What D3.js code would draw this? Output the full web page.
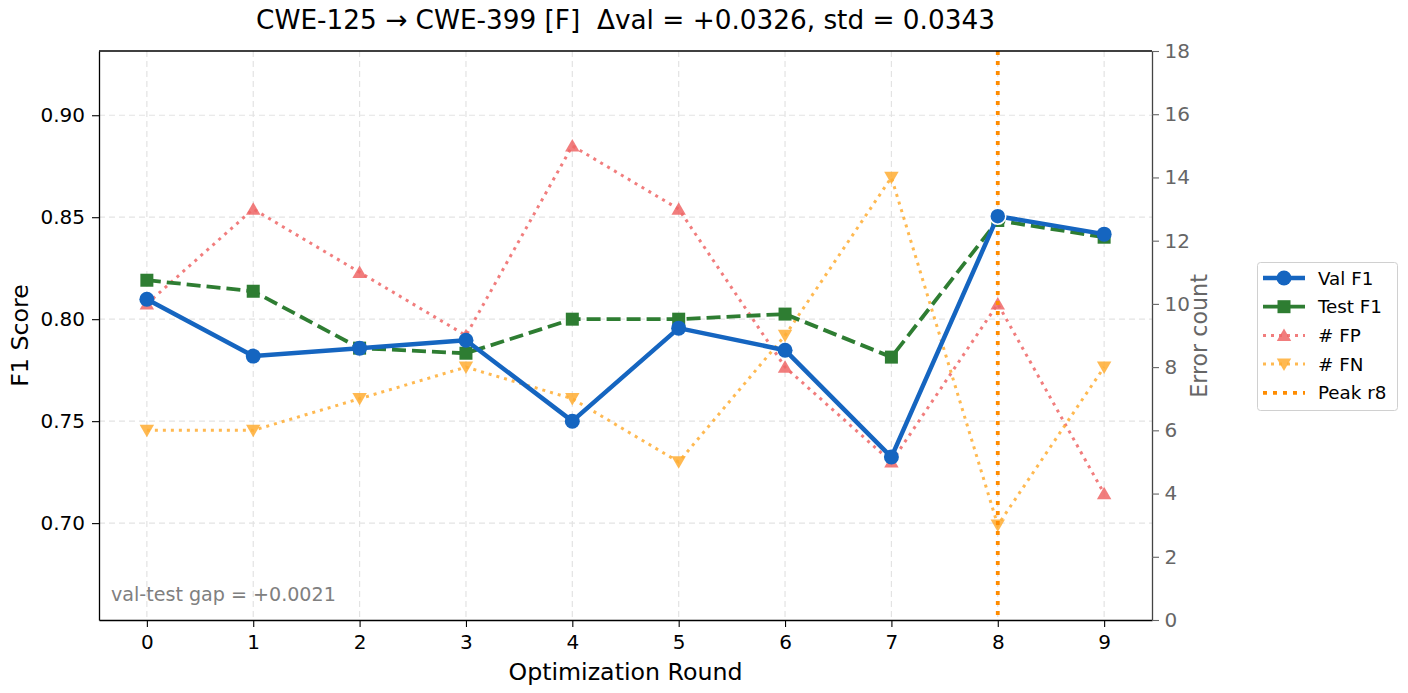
<!DOCTYPE html>
<html>
<head>
<meta charset="utf-8">
<script src="https://d3js.org/d3.v7.min.js"></script>
<style>
	body { margin: 0; background: white; font-family: "DejaVu Sans", sans-serif; }
	svg text { font-family: "DejaVu Sans", sans-serif; }
</style>
</head>
<body>
<script>
	var rounds = [0,1,2,3,4,5,6,7,8,9];
	var valF1 = [0.8098,0.7819,0.7858,0.7897,0.7500,0.7956,0.7848,0.7324,0.8505,0.8417];
	var testF1 = [0.8191,0.8137,0.7858,0.7833,0.8000,0.8000,0.8025,0.7814,0.8484,0.8402];
	var fpCount = [10,13,11,9,15,13,8,5,10,4];
	var fnCount = [6,6,7,8,7,5,9,14,3,8];
	var leftTicks = [0.70,0.75,0.80,0.85,0.90];
	var rightTicks = [0,2,4,6,8,10,12,14,16,18];
	var peakRound = 8;
	var title = "CWE-125 \u2192 CWE-399 [F]  \u0394val = +0.0326, std = 0.0343";
	var gapText = "val-test gap = +0.0021";

	var W = 1408, H = 693;
	var m = {left:99, top:51, right:1152, bottom:620};

	var svg = d3.select("body").append("svg")
		.attr("width", W).attr("height", H)
		.style("display","block");

	var x = d3.scaleLinear().domain([-0.45, 9.45]).range([m.left, m.right]);
	var y = d3.scaleLinear().domain([0.6525, 0.9315]).range([m.bottom, m.top]);
	var y2 = d3.scaleLinear().domain([0, 18]).range([m.bottom, m.top]);

	// grid
	var grid = svg.append("g");
	grid.selectAll(".gx").data(rounds).enter().append("line")
		.attr("x1", function(d){ return x(d); }).attr("x2", function(d){ return x(d); })
		.attr("y1", m.top).attr("y2", m.bottom)
		.attr("stroke","#e3e3e3").attr("stroke-dasharray","6,4").attr("stroke-width",1.2);
	grid.selectAll(".gy").data(leftTicks).enter().append("line")
		.attr("y1", function(d){ return y(d); }).attr("y2", function(d){ return y(d); })
		.attr("x1", m.left).attr("x2", m.right)
		.attr("stroke","#e3e3e3").attr("stroke-dasharray","6,4").attr("stroke-width",1.2);

	// error lines (right axis)
	var line2 = d3.line().x(function(d,i){ return x(rounds[i]); }).y(function(d){ return y2(d); });
	var line1 = d3.line().x(function(d,i){ return x(rounds[i]); }).y(function(d){ return y(d); });

	svg.append("path").datum(fpCount).attr("d", line2)
		.attr("fill","none").attr("stroke","#ee6666").attr("stroke-opacity",0.85)
		.attr("stroke-width",3).attr("stroke-dasharray","3,5");
	svg.append("path").datum(fnCount).attr("d", line2)
		.attr("fill","none").attr("stroke","#ffad33").attr("stroke-opacity",0.85)
		.attr("stroke-width",3).attr("stroke-dasharray","3,5");

	var triUp = d3.symbol().type(d3.symbolTriangle).size(90);
	svg.selectAll(".fp").data(fpCount).enter().append("path")
		.attr("d", triUp)
		.attr("transform", function(d,i){ return "translate(" + x(rounds[i]) + "," + (y2(d)+1.5) + ")"; })
		.attr("fill","#ee6666").attr("fill-opacity",0.85);
	svg.selectAll(".fn").data(fnCount).enter().append("path")
		.attr("d", triUp)
		.attr("transform", function(d,i){ return "translate(" + x(rounds[i]) + "," + (y2(d)-1.5) + ") rotate(180)"; })
		.attr("fill","#ffad33").attr("fill-opacity",0.85);

	// peak line
	svg.append("line")
		.attr("x1", x(peakRound)).attr("x2", x(peakRound))
		.attr("y1", m.top).attr("y2", m.bottom)
		.attr("stroke","#ff8c00").attr("stroke-width",3.8).attr("stroke-dasharray","4,6");

	// F1 lines
	svg.append("path").datum(testF1).attr("d", line1)
		.attr("fill","none").attr("stroke","#2e7d32").attr("stroke-width",3.8)
		.attr("stroke-dasharray","14,6");
	svg.selectAll(".tm").data(testF1).enter().append("rect")
		.attr("x", function(d,i){ return x(rounds[i]) - 6.5; })
		.attr("y", function(d){ return y(d) - 6.5; })
		.attr("width",13).attr("height",13).attr("fill","#2e7d32");

	svg.append("path").datum(valF1).attr("d", line1)
		.attr("fill","none").attr("stroke","#1565c0").attr("stroke-width",4.5)
		.attr("stroke-linejoin","round");
	svg.selectAll(".vm").data(valF1).enter().append("circle")
		.attr("cx", function(d,i){ return x(rounds[i]); })
		.attr("cy", function(d){ return y(d); })
		.attr("r", function(d,i){ return rounds[i] === peakRound ? 8 : 7.5; })
		.attr("fill","#1565c0")
		.attr("stroke", function(d,i){ return rounds[i] === peakRound ? "white" : "none"; })
		.attr("stroke-width",1.5);

	// frame
	svg.append("line").attr("x1",m.left).attr("x2",m.right).attr("y1",m.top).attr("y2",m.top)
		.attr("stroke","#000").attr("stroke-width",1.3);

	// axes
	var xAxis = svg.append("g").attr("transform","translate(0," + m.bottom + ")")
		.call(d3.axisBottom(x).tickValues(rounds).tickSizeInner(7).tickSizeOuter(0).tickPadding(7.5).tickFormat(d3.format("d")));
	var yAxis = svg.append("g").attr("transform","translate(" + m.left + ",0)")
		.call(d3.axisLeft(y).tickValues(leftTicks).tickSizeInner(7).tickSizeOuter(0).tickPadding(7).tickFormat(d3.format(".2f")));
	var yAxis2 = svg.append("g").attr("transform","translate(" + m.right + ",0)")
		.call(d3.axisRight(y2).tickValues(rightTicks).tickSizeInner(7).tickSizeOuter(0).tickPadding(5.5).tickFormat(d3.format("d")));

	[xAxis, yAxis].forEach(function(a){
		a.select(".domain").attr("stroke","#000").attr("stroke-width",1.3);
		a.selectAll(".tick line").attr("stroke","#000").attr("stroke-width",1.1);
		a.selectAll("text").attr("fill","#000").attr("font-family",null).attr("font-size",null).style("font-size","20px");
	});
	yAxis2.select(".domain").attr("stroke","#444").attr("stroke-width",1.3);
	yAxis2.selectAll(".tick line").attr("stroke","#666").attr("stroke-width",1.1);
	yAxis2.selectAll("text").attr("fill","#666").attr("font-family",null).attr("font-size",null).style("font-size","20px");

	// labels
	svg.append("text").attr("x", (m.left+m.right)/2).attr("y", 29).attr("text-anchor","middle")
		.attr("xml:space","preserve").style("white-space","pre")
		.style("font-size","26.3px").attr("fill","#000").text(title);
	svg.append("text").attr("x", (m.left+m.right)/2).attr("y", 680).attr("text-anchor","middle")
		.style("font-size","23.7px").attr("fill","#000").text("Optimization Round");
	svg.append("text").attr("transform","translate(28," + (m.top+m.bottom)/2 + ") rotate(-90)")
		.attr("text-anchor","middle").style("font-size","23.7px").attr("fill","#000").text("F1 Score");
	svg.append("text").attr("transform","translate(1207," + 336 + ") rotate(-90)")
		.attr("text-anchor","middle").style("font-size","22.2px").attr("fill","#666").text("Error count");
	svg.append("text").attr("x", 111).attr("y", 601)
		.style("font-size","19.1px").attr("fill","#808080").text(gapText);

	// legend
	var lg = svg.append("g").attr("transform","translate(1257,262)");
	lg.append("rect").attr("x",0.5).attr("y",0.5).attr("width",140).attr("height",148).attr("rx",3)
		.attr("fill","white").attr("stroke","#d0d0d0").attr("stroke-width",1);
	var items = [
		{label:"Val F1", kind:"val"},
		{label:"Test F1", kind:"test"},
		{label:"# FP", kind:"fp"},
		{label:"# FN", kind:"fn"},
		{label:"Peak r8", kind:"peak"}
	];
	items.forEach(function(it, i){
		var cy = 16 + i * 28.7;
		var g = lg.append("g").attr("transform","translate(0," + cy + ")");
		if (it.kind === "val") {
			g.append("line").attr("x1",6).attr("x2",48).attr("stroke","#1565c0").attr("stroke-width",4.5);
			g.append("circle").attr("cx",27).attr("r",7.5).attr("fill","#1565c0");
		} else if (it.kind === "test") {
			g.append("line").attr("x1",6).attr("x2",48).attr("stroke","#2e7d32").attr("stroke-width",3.8);
			g.append("rect").attr("x",20.5).attr("y",-6.5).attr("width",13).attr("height",13).attr("fill","#2e7d32");
		} else if (it.kind === "fp" || it.kind === "fn") {
			var c = it.kind === "fp" ? "#ee6666" : "#ffad33";
			g.append("line").attr("x1",6).attr("x2",48).attr("stroke",c).attr("stroke-opacity",0.85)
				.attr("stroke-width",3).attr("stroke-dasharray","3,5");
			g.append("path").attr("d", triUp)
				.attr("transform","translate(27," + (it.kind === "fp" ? 1.5 : -1.5) + ")" + (it.kind === "fn" ? " rotate(180)" : ""))
				.attr("fill",c).attr("fill-opacity",0.85);
		} else {
			g.append("line").attr("x1",6).attr("x2",48).attr("stroke","#ff8c00").attr("stroke-width",3.8)
				.attr("stroke-dasharray","4,6");
		}
		g.append("text").attr("x",61).attr("y",6.5).style("font-size","18.3px").attr("fill","#000").text(it.label);
	});
</script>
</body>
</html>
